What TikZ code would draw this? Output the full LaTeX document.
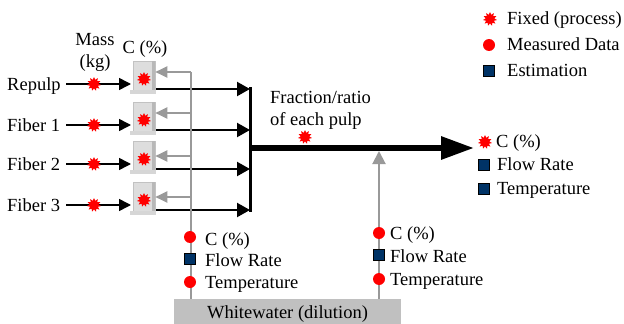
\documentclass[tikz,border=0pt]{standalone}
\usepackage{fontspec}
\setmainfont{Liberation Serif}
\usetikzlibrary{shapes.geometric,arrows.meta}
\definecolor{estblue}{HTML}{003366}
\definecolor{boxgray}{HTML}{DDDDDD}
\definecolor{linegray}{HTML}{999999}
\definecolor{wwgray}{HTML}{C0C0C0}
\tikzset{
  txt/.style={anchor=base west,inner sep=0pt,font=\fontsize{18.5}{20}\selectfont},
  ctxt/.style={anchor=base,inner sep=0pt,font=\fontsize{18.5}{20}\selectfont},
  fixedmk/.style={star,star points=11,star point ratio=1.6,fill=red,draw=none,minimum size=14pt,inner sep=0pt},
  measmk/.style={circle,fill=red,draw=none,minimum size=12pt,inner sep=0pt},
  estmk/.style={rectangle,fill=estblue,draw=black,line width=0.6pt,minimum size=10.5pt,inner sep=0pt},
  cbox/.style={rectangle,fill=boxgray,draw=linegray!60,line width=0.6pt,minimum width=22pt,minimum height=31pt,inner sep=0pt},
  feed/.style={line width=1.6pt,-{Triangle[length=12pt,width=12pt]}},
  outl/.style={line width=2.2pt,-{Triangle[length=13pt,width=14pt]}},
  garrow/.style={linegray,line width=2pt,-{Triangle[length=12pt,width=11pt]}},
  gline/.style={linegray,line width=2pt},
}
\begin{document}
\begin{tikzpicture}[x=1pt,y=-1pt]
\useasboundingbox (0,0) rectangle (624,324);

% legend
\node[fixedmk] (lgf) at (490,19) {};
\node[txt] (lgft) at (507,24) {Fixed (process)};
\node[measmk] (lgm) at (489,45) {};
\node[txt] (lgmt) at (507,50) {Measured Data};
\node[estmk] (lge) at (489,71) {};
\node[txt] (lget) at (507,76) {Estimation};

% headers
\node[ctxt] (mass) at (95,45) {Mass};
\node[ctxt] (kg) at (95,67) {(kg)};
\node[ctxt] (chead) at (145,53) {C (\%)};

% whitewater
\node[rectangle,fill=wwgray,draw=none,minimum width=227pt,minimum height=25pt,inner sep=0pt] (ww) at (287.5,311.5) {};
\node[ctxt] (wwt) at (287.5,318) {Whitewater (dilution)};

% mixing junction points
\coordinate (gtop) at (191,72);
\coordinate (gbot) at (191,299);
\coordinate (bustop) at (250,87);
\coordinate (busbot) at (250,212);
\coordinate (busmid) at (250,148);
\coordinate (mainend) at (474,148);
\coordinate (rgbot) at (379,299);
\coordinate (rgtop) at (379,151);

% the four pulp lines
\foreach \n/\lab/\y in {1/Repulp/84,2/Fiber 1/125,3/Fiber 2/164,4/Fiber 3/205}{
  \node[txt] (lab\n) at (7,\y+6) {\lab};
  \node[cbox] (box\n) at (144,\y-7) {};
  \fill[linegray!70] ([xshift=-3pt]box\n.north east) rectangle (box\n.south east);
  \fill[linegray!40] ([xshift=-3pt,yshift=-1pt]box\n.south west) rectangle ([xshift=1pt,yshift=3pt]box\n.south east);
  \node[fixedmk] (bs\n) at (144,\y-5) {};
  \coordinate (fs\n) at (66,\y);
  \coordinate (fe\n) at (131,\y);
  \draw[feed] (fs\n) -- (fe\n);
  \node[fixedmk] (ms\n) at (94,\y) {};
  \coordinate (os\n) at (156,\y+5);
  \coordinate (oe\n) at (250,\y+5);
  \draw[outl] (os\n) -- (oe\n);
}

% gray dilution lines to the boxes
\draw[gline] (gbot) -- (gtop);
\draw[garrow] (gtop) -- (box1.east |- gtop);
\foreach \n/\y in {2/113,3/156,4/197}{
  \coordinate (gb\n) at (191,\y);
  \draw[garrow] (gb\n) -- (box\n.east |- gb\n);
}

% bus and main output
\draw[line width=3pt] (bustop) -- (busbot);
\draw[line width=6pt,-{Triangle[length=33pt,width=22pt]}] (busmid) -- (mainend);
\node[txt] (frac1) at (270,103) {Fraction/ratio};
\node[txt] (frac2) at (270,125) {of each pulp};
\node[fixedmk] (fracm) at (305,137) {};

% right dilution line
\draw[linegray,line width=2pt,-{Triangle[length=13pt,width=13pt]}] (rgbot) -- (rgtop);

% markers on left gray line
\node[measmk] (lc) at (190,237) {};
\node[txt] (lct) at (205,245) {C (\%)};
\node[estmk] (lf) at (190,259) {};
\node[txt] (lft) at (205,266) {Flow Rate};
\node[measmk] (lt) at (190,282) {};
\node[txt] (ltt) at (205,288) {Temperature};

% markers on right gray line
\node[measmk] (rc) at (379,233) {};
\node[txt] (rct) at (390,239) {C (\%)};
\node[estmk] (rf) at (379,255) {};
\node[txt] (rft) at (390,262) {Flow Rate};
\node[measmk] (rt) at (379,279) {};
\node[txt] (rtt) at (390,285) {Temperature};

% output labels
\node[fixedmk] (oc) at (485,142) {};
\node[txt] (oct) at (496,147) {C (\%)};
\node[estmk] (of) at (484,165) {};
\node[txt] (oft) at (497,170) {Flow Rate};
\node[estmk] (ot) at (484,189) {};
\node[txt] (ott) at (497,194) {Temperature};
\end{tikzpicture}
\end{document}
